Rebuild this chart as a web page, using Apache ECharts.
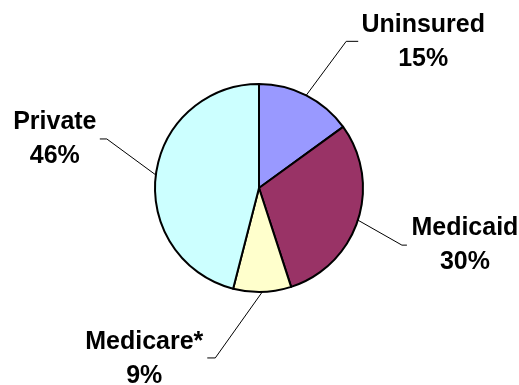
<!DOCTYPE html>
<html>
<head>
<meta charset="utf-8">
<script src="https://cdn.jsdelivr.net/npm/echarts@6/dist/echarts.min.js"></script>
<style>
  html, body { margin: 0; padding: 0; background: #fff; }
  #chart { width: 519px; height: 385px; }
</style>
</head>
<body>
<div id="chart"></div>
<script>
// Health coverage shares (percent)
const categories = ['Uninsured', 'Medicaid', 'Medicare*', 'Private'];
const shares = [15, 30, 9, 46];
const sliceColors = ['#9999FF', '#993366', '#FFFFCC', '#CCFFFF'];

// Leader-line geometry, relative to each slice's edge anchor:
// knee point, horizontal tail length, and label block centre.
const kneeOffset = [[40, -54], [44, 25], [-47, 66], [-49, -36]];
const tailLen = [12, 5, -8, -7];
const labelOffset = [[117, -53], [107, 25], [-118, 67], [-101, -36]];

const CENTER = [259, 188];
const RADIUS = 104;

const total = shares.reduce((a, b) => a + b, 0);
function anchorFor(i) {
  let before = 0;
  for (let k = 0; k < i; k++) before += shares[k];
  const mid = (before + shares[i] / 2) / total * Math.PI * 2;
  return [CENTER[0] + RADIUS * Math.sin(mid), CENTER[1] - RADIUS * Math.cos(mid)];
}

const chart = echarts.init(document.getElementById('chart'), null, { renderer: 'canvas' });
chart.setOption({
  animation: false,
  backgroundColor: '#ffffff',
  series: [{
    type: 'pie',
    center: CENTER,
    radius: RADIUS,
    startAngle: 90,
    clockwise: true,
    data: categories.map((name, i) => ({
      name: name,
      value: shares[i],
      itemStyle: { color: sliceColors[i] }
    })),
    itemStyle: { borderColor: '#000000', borderWidth: 2 },
    emphasis: { disabled: true },
    label: {
      show: true,
      position: 'outside',
      formatter: '{b}\n{c}%',
      color: '#000000',
      fontFamily: 'Arial, "Liberation Sans", sans-serif',
      fontWeight: 'bold',
      fontSize: 25,
      lineHeight: 34,
      align: 'center'
    },
    labelLine: {
      show: true,
      length: 20,
      length2: 10,
      lineStyle: { color: '#000000', width: 1 }
    },
    labelLayout: function (params) {
      const i = params.dataIndex;
      const a = (params.labelLinePoints && params.labelLinePoints[0]) || anchorFor(i);
      const knee = [a[0] + kneeOffset[i][0], a[1] + kneeOffset[i][1]];
      const end = [knee[0] + tailLen[i], knee[1]];
      return {
        x: a[0] + labelOffset[i][0],
        y: a[1] + labelOffset[i][1],
        align: 'center',
        verticalAlign: 'middle',
        labelLinePoints: [a, knee, end]
      };
    }
  }]
});
</script>
</body>
</html>
